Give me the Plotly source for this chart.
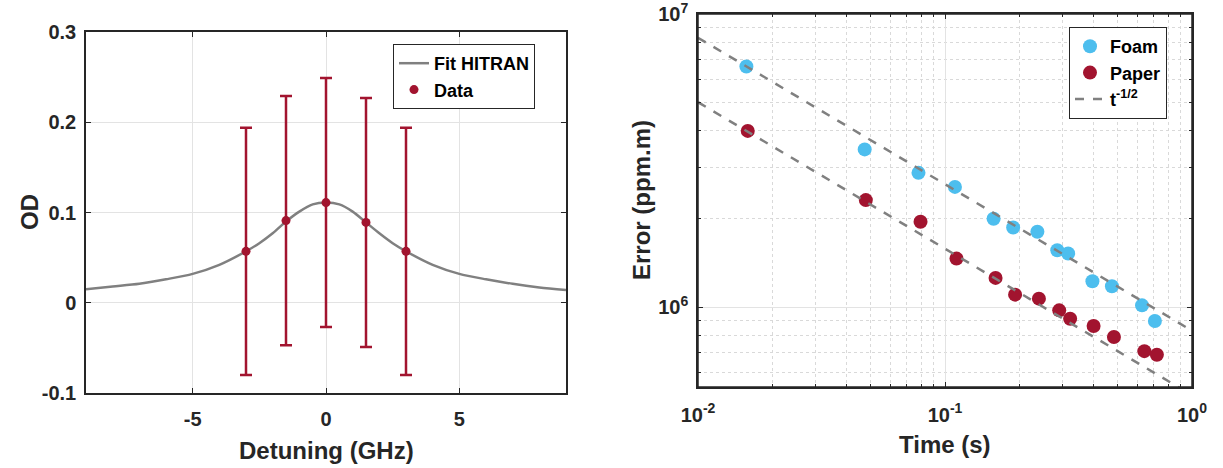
import plotly.graph_objects as go

# ---------------- Left panel data ----------------
detuning = [-3, -1.5, 0, 1.5, 3]
od = [0.057, 0.091, 0.111, 0.089, 0.057]
od_err = [0.137, 0.138, 0.138, 0.138, 0.137]

fit_x = [-9, -8, -7, -6, -5, -4, -3, -2.5, -2, -1.5, -1, -0.5, 0,
         0.5, 1, 1.5, 2, 2.5, 3, 4, 5, 6, 7, 8, 9]
fit_y = [0.015, 0.018, 0.021, 0.026, 0.032, 0.042, 0.057, 0.066, 0.077, 0.090, 0.101, 0.109, 0.111,
         0.109, 0.101, 0.089, 0.077, 0.066, 0.057, 0.042, 0.032, 0.026, 0.021, 0.017, 0.014]

left_xticks = [-5, 0, 5]
left_xticktext = ["-5", "0", "5"]
left_yticks = [-0.1, 0, 0.1, 0.2, 0.3]
left_yticktext = ["-0.1", "0", "0.1", "0.2", "0.3"]

# ---------------- Right panel data ----------------
foam_t = [0.0157, 0.0473, 0.0781, 0.1097, 0.1573, 0.1888, 0.2366, 0.2848, 0.3152, 0.3952, 0.474, 0.6275, 0.7076]
foam_err = [6.62e6, 3.45e6, 2.87e6, 2.57e6, 2.0e6, 1.868e6, 1.806e6, 1.563e6, 1.522e6, 1.224e6, 1.177e6, 1.013e6, 8.96e5]

paper_t = [0.0159, 0.0478, 0.0796, 0.1113, 0.1602, 0.1922, 0.24, 0.29, 0.3211, 0.3996, 0.483, 0.6414, 0.7207]
paper_err = [3.99e6, 2.317e6, 1.954e6, 1.463e6, 1.257e6, 1.102e6, 1.068e6, 9.74e5, 9.12e5, 8.61e5, 7.9e5, 7.07e5, 6.87e5]

fit_t = [0.01, 1.0]
foam_fit = [8.3e6, 8.3e5]
paper_fit = [5.0e6, 5.0e5]

right_xticks = [0.01, 0.1, 1]
right_xticktext = ["10<sup>-2</sup>", "10<sup>-1</sup>", "10<sup>0</sup>"]
right_yticks = [1e6, 1e7]
right_yticktext = ["10<sup>6</sup>", "10<sup>7</sup>"]

RED = "#A2142F"
BLUE = "#4DBEEE"
GRAY = "#808080"
AX = "#262626"
FONT = "Liberation Sans"

fig = go.Figure()

fig.add_trace(go.Scatter(x=fit_x, y=fit_y, mode="lines", name="Fit HITRAN",
                         line=dict(color=GRAY, width=2.5, shape="spline", smoothing=0.8),
                         xaxis="x", yaxis="y", legend="legend"))
fig.add_trace(go.Scatter(x=detuning, y=od, mode="markers", name="Data",
                         marker=dict(color=RED, size=9),
                         error_y=dict(type="data", array=od_err, color=RED, thickness=2.5, width=6),
                         xaxis="x", yaxis="y", legend="legend"))

fig.add_trace(go.Scatter(x=foam_t, y=foam_err, mode="markers", name="Foam",
                         marker=dict(color=BLUE, size=14),
                         xaxis="x2", yaxis="y2", legend="legend2"))
fig.add_trace(go.Scatter(x=paper_t, y=paper_err, mode="markers", name="Paper",
                         marker=dict(color=RED, size=14),
                         xaxis="x2", yaxis="y2", legend="legend2"))
fig.add_trace(go.Scatter(x=fit_t, y=foam_fit, mode="lines", name="t<sup>-1/2</sup>",
                         line=dict(color=GRAY, width=2.5, dash="dash"),
                         xaxis="x2", yaxis="y2", legend="legend2"))
fig.add_trace(go.Scatter(x=fit_t, y=paper_fit, mode="lines", showlegend=False,
                         line=dict(color=GRAY, width=2.5, dash="dash"),
                         xaxis="x2", yaxis="y2"))

W, H = 1223, 468
TICKFONT = dict(size=20, color=AX, family=FONT, weight="bold")
common_axis = dict(showline=True, linecolor=AX, linewidth=1.5, mirror="ticks",
                   ticks="inside", tickcolor=AX, ticklen=5, zeroline=False,
                   automargin=False, tickfont=TICKFONT, ticklabeloverflow="allow")

minor_x = [a * 10 ** e for e in (-2, -1) for a in range(2, 10)]
minor_y = [a * 10 ** 5 for a in range(5, 10)] + [a * 10 ** 6 for a in range(2, 10)]

TITLEFONT = dict(size=24, family=FONT, color=AX, weight="bold")


def title_ann(text, px, py, angle=0):
    return dict(text=text, x=px / W, y=1 - py / H, xref="paper", yref="paper",
                xanchor="center", yanchor="middle", showarrow=False,
                textangle=angle, font=TITLEFONT)


fig.update_layout(
    width=W, height=H,
    margin=dict(l=0, r=0, t=0, b=0),
    paper_bgcolor="white", plot_bgcolor="white",
    font=dict(family=FONT, color=AX, size=18, weight="bold"),
    xaxis=dict(domain=[86 / W, 566 / W], range=[-9, 9], tickvals=left_xticks, ticktext=left_xticktext,
               showgrid=True, gridcolor="#e3e3e3", gridwidth=1, anchor="y",
               ticklabelstandoff=7, **common_axis),
    yaxis=dict(domain=[1 - 393 / H, 1 - 32 / H], range=[-0.1, 0.3], tickvals=left_yticks,
               ticktext=left_yticktext, showgrid=True, gridcolor="#e3e3e3", anchor="x",
               ticklabelstandoff=4, **common_axis),
    xaxis2=dict(domain=[698 / W, 1192 / W], type="log", range=[-2, 0], tickvals=right_xticks,
                ticktext=right_xticktext, showgrid=True, gridcolor="#e3e3e3", anchor="y2",
                minor=dict(tickvals=minor_x, showgrid=True, griddash="dot", gridcolor="#d9d9d9",
                           ticks="inside", ticklen=3, tickcolor=AX),
                ticklabelstandoff=9, **common_axis),
    yaxis2=dict(domain=[1 - 387 / H, 1 - 14 / H], type="log", range=[5.727, 7], tickvals=right_yticks,
                ticktext=right_yticktext, showgrid=True, gridcolor="#e3e3e3", anchor="x2",
                minor=dict(tickvals=minor_y, showgrid=True, griddash="dot", gridcolor="#d9d9d9",
                           ticks="inside", ticklen=3, tickcolor=AX),
                ticklabelstandoff=4, **common_axis),
    legend=dict(x=393 / W, y=1 - 44 / H, xanchor="left", yanchor="top",
                bgcolor="white", bordercolor=AX, borderwidth=1,
                font=dict(size=18, family=FONT, color="black", weight="bold"),
                tracegroupgap=0, itemwidth=30),
    legend2=dict(x=1069 / W, y=1 - 27 / H, xanchor="left", yanchor="top",
                 bgcolor="white", bordercolor=AX, borderwidth=1,
                 font=dict(size=18, family=FONT, color="black", weight="bold"),
                 tracegroupgap=0, itemwidth=30),
    showlegend=True,
    annotations=[
        title_ann("Detuning (GHz)", 326, 450),
        title_ann("OD", 30, 212, -90),
        title_ann("Time (s)", 945, 444),
        title_ann("Error (ppm.m)", 641, 200, -90),
    ],
    shapes=[
        dict(type="rect", xref="x2 domain", yref="y2 domain", x0=0, x1=1, y0=0, y1=1,
             line=dict(color=AX, width=1.5), fillcolor="rgba(0,0,0,0)", layer="above"),
    ],
)

fig.write_html("out.html", post_script="document.body.style.margin='0';",
               config={"displayModeBar": False})
